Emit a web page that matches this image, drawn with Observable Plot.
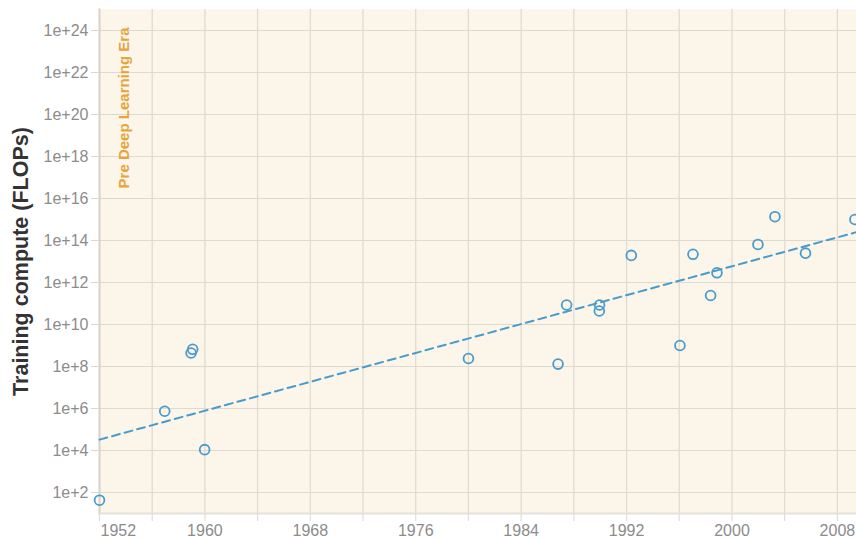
<!DOCTYPE html>
<html>
<head>
<meta charset="utf-8">
<script src="https://cdn.jsdelivr.net/npm/d3@7"></script>
<script src="https://cdn.jsdelivr.net/npm/@observablehq/plot@0.6"></script>
<style>
  html, body { margin: 0; padding: 0; background: #ffffff; }
  #chart svg { display: block; }
</style>
</head>
<body>
<div id="chart"></div>
<script>
// Data
const years = [1952.0, 1956.95, 1959.07, 1958.95, 1959.98, 1980.0, 1986.8, 1987.45, 1989.95, 1989.93, 1992.36, 1996.05, 1997.04, 1998.38, 1998.86, 2001.97, 2003.26, 2005.58, 2009.33];
const flops = [43, 7.4e5, 6.6e8, 4.4e8, 1.1e4, 2.4e8, 1.3e8, 8.5e10, 8.5e10, 4.4e10, 1.95e13, 1.0e9, 2.2e13, 2.4e11, 2.9e12, 6.5e13, 1.36e15, 2.5e13, 1.0e15];
const trendYears = [1952, 2009.45];
const trendFlops = [3.3e4, 2.5e14];
const gridYears = [1952, 1956, 1960, 1964, 1968, 1972, 1976, 1980, 1984, 1988, 1992, 1996, 2000, 2004, 2008];
const labelYears = [1960, 1968, 1976, 1984, 1992, 2000, 2008];
const firstYearLabel = [1952];
const yTicks = [1e2, 1e4, 1e6, 1e8, 1e10, 1e12, 1e14, 1e16, 1e18, 1e20, 1e22, 1e24];
const eraLabel = ["Pre Deep Learning Era"];
const yTitle = "Training compute (FLOPs)";

const points = years.map((y, i) => ({year: y, flops: flops[i]}));
const trend = trendYears.map((y, i) => ({year: y, flops: trendFlops[i]}));

const tickColor = "#8c8c8c";
const gridColor = "#dedad0";
const blue = "#4a9bcb";
const fmtY = d => "1e+" + Math.round(Math.log10(d));

const chart = Plot.plot({
  width: 856,
  height: 539,
  marginLeft: 99,
  marginRight: 0,
  marginTop: 9,
  marginBottom: 26,
  style: {fontFamily: "'Liberation Sans', Arial, Helvetica, sans-serif", background: "#ffffff", overflow: "hidden"},
  x: {domain: [1952, 2009.45], axis: null},
  y: {type: "log", domain: [10, 1e25], axis: null},
  marks: [
    Plot.frame({fill: "#fbf5ea", stroke: null}),
    Plot.gridX(gridYears, {stroke: gridColor, strokeOpacity: 1, strokeWidth: 1.2}),
    Plot.gridY(yTicks, {stroke: gridColor, strokeOpacity: 1, strokeWidth: 1.2}),
    Plot.frame({anchor: "left", stroke: "#d8d3c8", strokeWidth: 2}),
    Plot.frame({anchor: "bottom", stroke: "#e6e2da", strokeWidth: 2}),
    Plot.axisX(gridYears, {label: null, tickFormat: () => "", tickSize: 8, stroke: "#e2ded6", strokeWidth: 1.2}),
    Plot.axisX(labelYears, {label: null, tickSize: 0, tickPadding: 11, fontSize: 16, fill: tickColor, tickFormat: d => String(d)}),
    Plot.axisX(firstYearLabel, {label: null, tickSize: 0, tickPadding: 11, fontSize: 16, fill: tickColor, textAnchor: "start", dx: 1, tickFormat: d => String(d)}),
    Plot.axisY(yTicks, {label: null, tickSize: 8, tickPadding: 3, fontSize: 16, fill: tickColor, stroke: "#dcd8d0", tickFormat: fmtY}),
    Plot.text([yTitle], {frameAnchor: "left", textAnchor: "middle", rotate: -90, dx: -78, fontSize: 21.5, fontWeight: "bold", fill: "#333333"}),
    Plot.text(eraLabel, {x: () => 1953.45, frameAnchor: "top", rotate: -90, textAnchor: "end", dy: 18, fontSize: 15, fontWeight: "bold", fill: "#e6a53c"}),
    Plot.line(trend, {x: "year", y: "flops", stroke: blue, strokeWidth: 2, strokeDasharray: "8,5"}),
    Plot.dot(points, {x: "year", y: "flops", r: 4.9, stroke: blue, strokeWidth: 1.8, fill: "none"})
  ]
});
document.getElementById("chart").appendChild(chart);
</script>
</body>
</html>
